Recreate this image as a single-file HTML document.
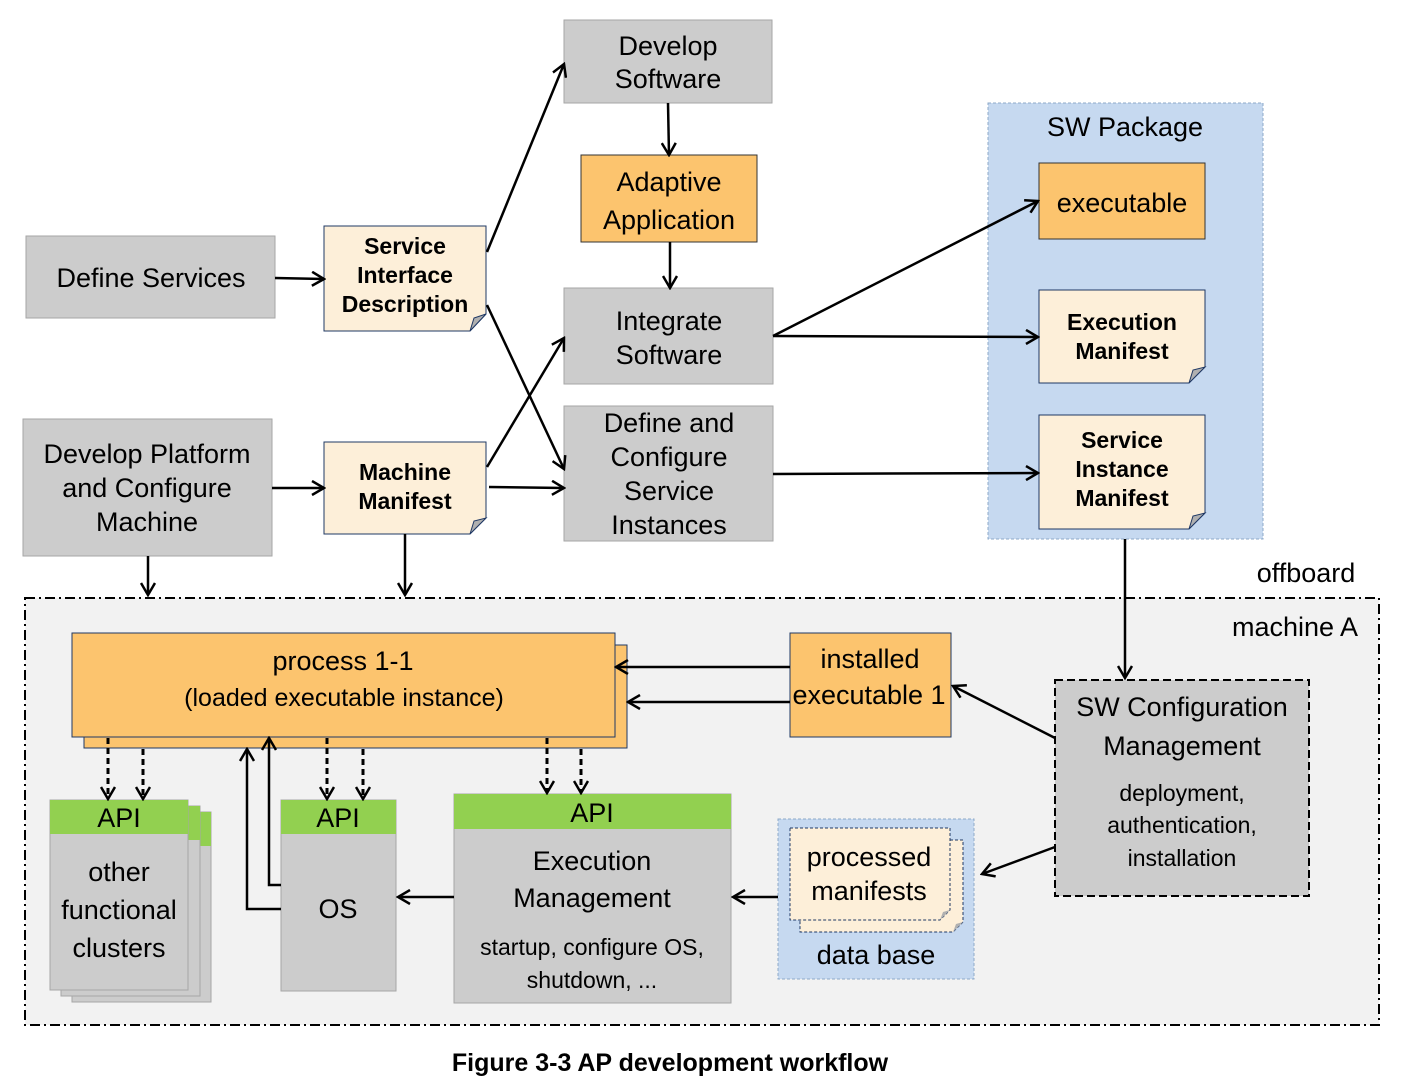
<!DOCTYPE html>
<html><head><meta charset="utf-8"><style>
html,body{margin:0;padding:0;background:#fff;}
svg{display:block;font-family:"Liberation Sans",Arial,sans-serif;}
</style></head><body>
<svg width="1401" height="1087" viewBox="0 0 1401 1087" xmlns="http://www.w3.org/2000/svg">
<defs>
<marker id="a" markerUnits="userSpaceOnUse" markerWidth="16" markerHeight="16" refX="14" refY="8" orient="auto">
<path d="M2,1 L14,8 L2,15" fill="none" stroke="#000" stroke-width="2.5"/>
</marker>
</defs>
<g stroke-width="1">
<rect x="25" y="598" width="1354" height="427" fill="#f2f2f2" stroke="#000" stroke-width="2" stroke-dasharray="10,4,2,4"/>
<rect x="988" y="103" width="275" height="436" fill="#c6d9f0" stroke="#8ea9c8" stroke-dasharray="3,2"/>
<rect x="564" y="20" width="208" height="83" fill="#cccccc" stroke="#a6a6a6"/>
<rect x="564" y="288" width="209" height="96" fill="#cccccc" stroke="#a6a6a6"/>
<rect x="564" y="406" width="209" height="135" fill="#cccccc" stroke="#a6a6a6"/>
<rect x="26" y="236" width="249" height="82" fill="#cccccc" stroke="#a6a6a6"/>
<rect x="23" y="419" width="249" height="137" fill="#cccccc" stroke="#a6a6a6"/>
<rect x="581" y="155" width="176" height="87" fill="#fcc46e" stroke="#333"/>
<rect x="1039" y="163" width="166" height="76" fill="#fcc46e" stroke="#333"/>
<path d="M324,226 H486 V314 L470,331 H324 Z" fill="#fdefd9" stroke="#1f3864"/>
<path d="M486,314 L470,331 L474,318 Z" fill="#b0b0b0" stroke="#1f3864"/>
<path d="M324,442 H486 V518 L470,534 H324 Z" fill="#fdefd9" stroke="#1f3864"/>
<path d="M486,518 L470,534 L474,521 Z" fill="#b0b0b0" stroke="#1f3864"/>
<path d="M1039,290 H1205 V367 L1189,383 H1039 Z" fill="#fdefd9" stroke="#1f3864"/>
<path d="M1205,367 L1189,383 L1193,370 Z" fill="#b0b0b0" stroke="#1f3864"/>
<path d="M1039,415 H1205 V513 L1189,529 H1039 Z" fill="#fdefd9" stroke="#1f3864"/>
<path d="M1205,513 L1189,529 L1193,516 Z" fill="#b0b0b0" stroke="#1f3864"/>
<rect x="84" y="645" width="543" height="103" fill="#fcc46e" stroke="#1f3864"/>
<rect x="72" y="633" width="543" height="104" fill="#fcc46e" stroke="#1f3864"/>
<rect x="790" y="633" width="161" height="104" fill="#fcc46e" stroke="#1f3864"/>
<rect x="1055" y="680" width="254" height="216" fill="#cccccc" stroke="#000" stroke-width="2" stroke-dasharray="8,4"/>
<rect x="72" y="812" width="139" height="190" fill="#cccccc" stroke="#a6a6a6"/>
<rect x="72" y="812" width="139" height="34" fill="#92d050"/>
<rect x="61" y="806" width="139" height="190" fill="#cccccc" stroke="#a6a6a6"/>
<rect x="61" y="806" width="139" height="34" fill="#92d050"/>
<rect x="50" y="800" width="138" height="190" fill="#cccccc" stroke="#a6a6a6"/>
<rect x="50" y="800" width="138" height="34" fill="#92d050"/>
<rect x="281" y="800" width="115" height="191" fill="#cccccc" stroke="#a6a6a6"/>
<rect x="281" y="800" width="115" height="34" fill="#92d050"/>
<rect x="454" y="794" width="277" height="209" fill="#cccccc" stroke="#a6a6a6"/>
<rect x="454" y="794" width="277" height="35" fill="#92d050"/>
<rect x="778" y="819" width="196" height="160" fill="#c6d9f0" stroke="#8ea9c8" stroke-dasharray="3,2"/>
<path d="M800,840 H963 V922 L953,932 H800 Z" fill="#fdefd9" stroke="#1f3864" stroke-dasharray="3,2"/>
<path d="M790,828 H950 V910 L940,920 H790 Z" fill="#fdefd9" stroke="#1f3864" stroke-dasharray="3,2"/>
<path d="M950,910 L940,920 L943,912 Z" fill="#b0b0b0"/>
<path d="M963,922 L953,932 L956,924 Z" fill="#b0b0b0"/>
</g>
<g stroke="#000" stroke-width="2.5" fill="none" marker-end="url(#a)">
<line x1="668" y1="103" x2="669" y2="155"/>
<line x1="670" y1="242" x2="670" y2="288"/>
<line x1="275" y1="278" x2="324" y2="279"/>
<line x1="272" y1="488" x2="324" y2="488"/>
<line x1="487" y1="252" x2="564" y2="64"/>
<line x1="487" y1="305" x2="564" y2="469"/>
<line x1="487" y1="467" x2="564" y2="338"/>
<line x1="489" y1="487" x2="564" y2="488"/>
<line x1="773" y1="336" x2="1038" y2="201"/>
<line x1="773" y1="336" x2="1038" y2="337"/>
<line x1="773" y1="474" x2="1038" y2="473"/>
<line x1="148" y1="556" x2="148" y2="595"/>
<line x1="405" y1="534" x2="405" y2="595"/>
<line x1="1125" y1="539" x2="1125" y2="678"/>
<line x1="790" y1="667" x2="616" y2="667"/>
<line x1="790" y1="702" x2="628" y2="702"/>
<line x1="1055" y1="738" x2="953" y2="686"/>
<line x1="1055" y1="847" x2="982" y2="874"/>
<line x1="778" y1="897" x2="733" y2="897"/>
<line x1="454" y1="897" x2="398" y2="897"/>
<polyline points="281,885 269,885 269,738"/>
<polyline points="281,909 247,909 247,749"/>
</g>
<g stroke="#000" stroke-width="3" fill="none" stroke-dasharray="6,4" marker-end="url(#a)">
<line x1="108" y1="738" x2="108" y2="799"/>
<line x1="143" y1="749" x2="143" y2="799"/>
<line x1="327" y1="738" x2="327" y2="799"/>
<line x1="363" y1="749" x2="363" y2="799"/>
<line x1="547" y1="738" x2="547" y2="793"/>
<line x1="581" y1="749" x2="581" y2="793"/>
</g>
<g fill="#000" text-anchor="middle" font-size="27">
<text x="668" y="55">Develop</text><text x="668" y="88">Software</text>
<text x="669" y="191">Adaptive</text><text x="669" y="229">Application</text>
<text x="669" y="330">Integrate</text><text x="669" y="364">Software</text>
<text x="669" y="432">Define and</text><text x="669" y="466">Configure</text><text x="669" y="500">Service</text><text x="669" y="534">Instances</text>
<text x="151" y="287">Define Services</text>
<text x="147" y="463">Develop Platform</text><text x="147" y="497">and Configure</text><text x="147" y="531">Machine</text>
<text x="1125" y="136">SW Package</text>
<text x="1122" y="212">executable</text>
<text x="1306" y="582">offboard</text>
<text x="1295" y="636">machine A</text>
<text x="343" y="670">process 1-1</text>
<text x="344" y="706" font-size="25">(loaded executable instance)</text>
<text x="870" y="668">installed</text><text x="869" y="704">executable 1</text>
<text x="1182" y="716">SW Configuration</text><text x="1182" y="755">Management</text>
<text x="1182" y="801" font-size="23">deployment,</text><text x="1182" y="833" font-size="23">authentication,</text><text x="1182" y="866" font-size="23">installation</text>
<text x="119" y="827">API</text><text x="338" y="827">API</text><text x="592" y="822">API</text>
<text x="119" y="881">other</text><text x="119" y="919">functional</text><text x="119" y="957">clusters</text>
<text x="338" y="918">OS</text>
<text x="592" y="870">Execution</text><text x="592" y="907">Management</text>
<text x="592" y="955" font-size="23">startup, configure OS,</text><text x="592" y="988" font-size="23">shutdown, ...</text>
<text x="869" y="866">processed</text><text x="869" y="900">manifests</text>
<text x="876" y="964">data base</text>
</g>
<g fill="#000" text-anchor="middle" font-size="23" font-weight="bold">
<text x="405" y="254">Service</text><text x="405" y="283">Interface</text><text x="405" y="312">Description</text>
<text x="405" y="480">Machine</text><text x="405" y="509">Manifest</text>
<text x="1122" y="330">Execution</text><text x="1122" y="359">Manifest</text>
<text x="1122" y="448">Service</text><text x="1122" y="477">Instance</text><text x="1122" y="506">Manifest</text>
<text x="670" y="1071" font-size="25">Figure 3-3 AP development workflow</text>
</g>
</svg>
</body></html>
